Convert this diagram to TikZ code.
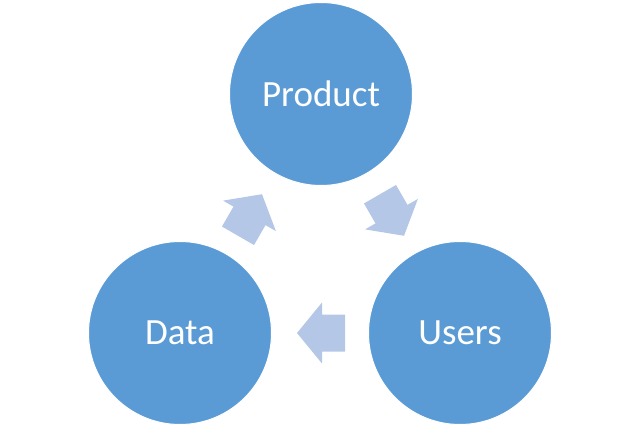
\documentclass[tikz,border=0pt]{standalone}
\usepackage{fontspec}
\setmainfont{Carlito}
\definecolor{cblue}{RGB}{91,155,213}
\definecolor{ablue}{RGB}{180,199,231}
\begin{document}
\begin{tikzpicture}[x=1pt,y=-1pt,
  circ/.style={circle,fill=cblue,draw=white,line width=1pt,minimum size=183pt,inner sep=0pt,text=white,font=\fontsize{37}{40}\selectfont},
  blockarrow/.pic={\fill[ablue] (-24,0) -- (1,-30.5) -- (1,-18.5) -- (24,-18.5) -- (24,18.5) -- (1,18.5) -- (1,30.5) -- cycle;}]
\useasboundingbox (0,0) rectangle (640,428);
\node[circ] (product) at (321,94) {Product};
\node[circ] (data) at (180,333) {Data};
\node[circ] (users) at (460,333) {Users};
\coordinate (a1) at (250,215);
\coordinate (a2) at (392,215);
\coordinate (a3) at (321,333);
\pic[rotate=-120] at (a1) {blockarrow};
\pic[rotate=120] at (a2) {blockarrow};
\pic at (a3) {blockarrow};
\end{tikzpicture}
\end{document}
